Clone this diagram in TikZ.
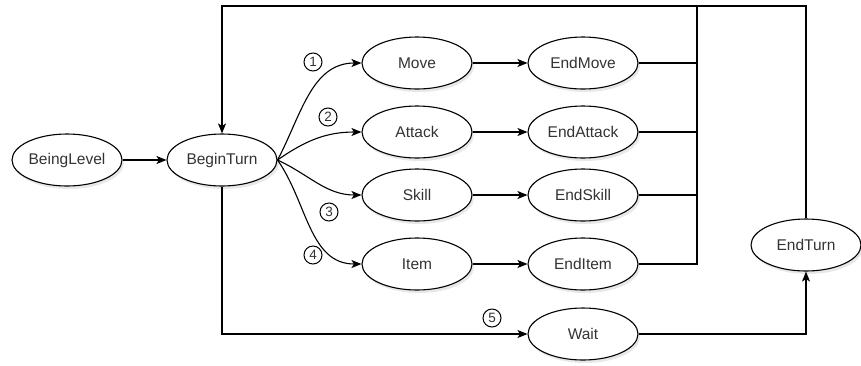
\documentclass[tikz,border=0pt]{standalone}
\usepackage{fontspec}
\setmainfont{Liberation Sans}
\usetikzlibrary{arrows.meta,shapes.geometric,shadows}
\definecolor{txt}{HTML}{333333}
\begin{document}
\begin{tikzpicture}[x=1pt,y=-1pt,
  state/.style={ellipse, draw, fill=white, line width=1.1pt,
    minimum width=110pt, minimum height=52pt, inner sep=0pt,
    font=\fontsize{15.5}{17}\selectfont, text=txt,
    drop shadow={opacity=0.18, shadow xshift=2pt, shadow yshift=-3pt}},
  num/.style={circle, draw, fill=white, line width=1pt, minimum size=18pt,
    inner sep=0pt, font=\fontsize{13.5}{14}\selectfont, text=txt},
  link/.style={line width=1.1pt},
  arr/.style={link, -{Stealth[length=10pt,width=8pt,inset=2.5pt]}}]
\useasboundingbox (0,0) rectangle (861,365);

% states
\node[state] (lvl)     at (67,160)  {BeingLevel};
\node[state] (begin)   at (222,160) {BeginTurn};
\node[state] (move)    at (417,63)  {Move};
\node[state] (attack)  at (417,132) {Attack};
\node[state] (skill)   at (417,195) {Skill};
\node[state] (item)    at (417,264) {Item};
\node[state] (endmove) at (583,63)  {EndMove};
\node[state] (endatk)  at (583,132) {EndAttack};
\node[state] (endskl)  at (583,195) {EndSkill};
\node[state] (enditem) at (583,264) {EndItem};
\node[state] (wait)    at (583,334) {Wait};
\node[state] (endturn) at (806,245) {EndTurn};

% routing points
\coordinate (bus)  at (697,6);
\coordinate (ret)  at (806,6);

% edges
\draw[arr] (lvl) -- (begin);
\draw[arr] (begin.east) to[out=62,in=180] (move.west);
\draw[arr] (begin.east) to[out=35,in=180] (attack.west);
\draw[arr] (begin.east) to[out=-25,in=180] (skill.west);
\draw[arr] (begin.east) to[out=-55,in=180] (item.west);

\draw[arr] (move) -- (endmove);
\draw[arr] (attack) -- (endatk);
\draw[arr] (skill) -- (endskl);
\draw[arr] (item) -- (enditem);

\draw[link] (endmove.east) -- (endmove.east -| bus);
\draw[link] (endatk.east) -- (endatk.east -| bus);
\draw[link] (endskl.east) -- (endskl.east -| bus);
\draw[link] (enditem.east) -- (enditem.east -| bus) -- (bus);

\draw[arr] (endturn.north) -- (ret) -| (begin.north);
\draw[arr] (begin.south) |- (wait.west);
\draw[arr] (wait.east) -| (endturn.south);

% option numbers
\node[num] (n1) at (313,62)  {1};
\node[num] (n2) at (328,117) {2};
\node[num] (n3) at (329,212) {3};
\node[num] (n4) at (313,255) {4};
\node[num] (n5) at (492,318) {5};
\end{tikzpicture}
\end{document}
